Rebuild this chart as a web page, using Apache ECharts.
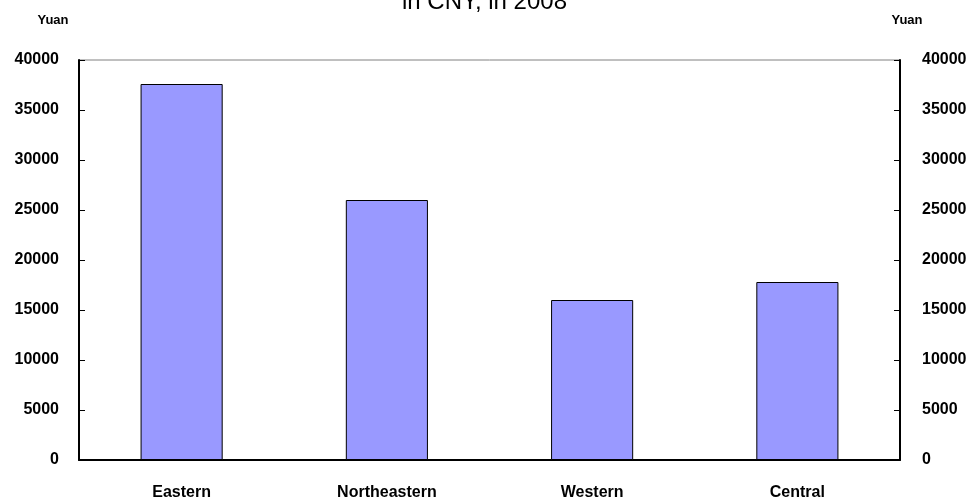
<!DOCTYPE html>
<html>
<head>
<meta charset="utf-8">
<script src="https://cdn.jsdelivr.net/npm/echarts@6/dist/echarts.min.js"></script>
<style>html,body{margin:0;padding:0;background:#fff;}#c{width:969px;height:502px;}</style>
</head>
<body>
<div id="c"></div>
<script>
var titleText = 'in CNY, in 2008';
var categories = ['Eastern', 'Northeastern', 'Western', 'Central'];
var values = [37600, 26000, 16000, 17800];
var axisName = 'Yuan';

var FONT = '"Liberation Sans", Arial, sans-serif';
var chart = echarts.init(document.getElementById('c'));
var plain = function (v) { return String(v); };
var yCommon = {
  type: 'value', min: 0, max: 40000, interval: 5000,
  axisLine: {show: true, lineStyle: {color: '#000', width: 2}},
  axisTick: {show: true, inside: true, length: 6, lineStyle: {color: '#000', width: 1}},
  splitLine: {show: false},
  name: axisName, nameLocation: 'end', nameGap: 33
};
chart.setOption({
  animation: false,
  textStyle: {fontFamily: FONT},
  title: {
    text: titleText, left: 'center', top: -10, padding: 0,
    textStyle: {fontSize: 24, fontWeight: 'normal', color: '#000', fontFamily: FONT}
  },
  grid: {left: 79, right: 69, top: 60, bottom: 42, show: true, borderColor: '#808080', borderWidth: 1,
         containLabel: false, outerBoundsMode: 'none'},
  xAxis: {
    type: 'category', data: categories,
    axisLine: {lineStyle: {color: '#000', width: 2}},
    axisTick: {show: false},
    axisLabel: {fontSize: 16, fontWeight: 'bold', color: '#000', margin: 25, fontFamily: FONT}
  },
  yAxis: [
    Object.assign({}, yCommon, {
      position: 'left',
      axisLabel: {fontSize: 16, fontWeight: 'bold', color: '#000', margin: 20, fontFamily: FONT, formatter: plain},
      nameTextStyle: {fontSize: 13, fontWeight: 'bold', color: '#000', align: 'center', padding: [0, 52, 0, 0], fontFamily: FONT}
    }),
    Object.assign({}, yCommon, {
      position: 'right',
      axisLabel: {fontSize: 16, fontWeight: 'bold', color: '#000', margin: 22, fontFamily: FONT, formatter: plain},
      nameTextStyle: {fontSize: 13, fontWeight: 'bold', color: '#000', align: 'center', padding: [0, 0, 0, 14], fontFamily: FONT}
    })
  ],
  series: [{
    type: 'bar', data: values, barWidth: '40%', yAxisIndex: 0,
    itemStyle: {color: '#9999FF', borderColor: '#000', borderWidth: 1}
  }]
});
</script>
</body>
</html>
